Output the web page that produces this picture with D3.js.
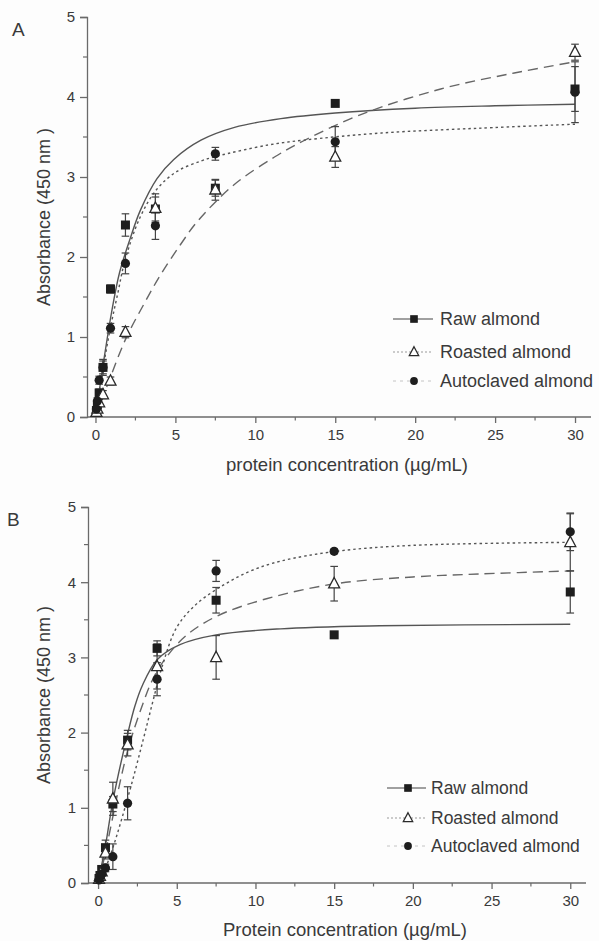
<!DOCTYPE html>
<html><head><meta charset="utf-8">
<script src="https://cdn.jsdelivr.net/npm/d3@7"></script>
<style>
body{margin:0;background:#fff;}
text{font-family:"Liberation Sans",Arial,sans-serif;fill:#3a3a3a;}
</style>
</head><body>
<svg id="c" width="599" height="941"></svg>
<script>
// ---------- data ----------
const seriesNames = ["Raw almond", "Roasted almond", "Autoclaved almond"];
const concentrations = [0.06, 0.12, 0.23, 0.47, 0.94, 1.875, 3.75, 7.5, 15, 30];
const xTickValues = [0, 5, 10, 15, 20, 25, 30];
const yTickValues = [0, 1, 2, 3, 4, 5];

// Panel A
const rawA        = [0.08, 0.15, 0.30, 0.62, 1.60, 2.40, 2.60, 2.86, 3.92, 4.10];
const rawAErr     = [0.03, 0.04, 0.05, 0.08, 0.05, 0.14, 0.15, 0.10, 0.03, 0.28];
const roastedA    = [0.06, 0.10, 0.18, 0.28, 0.45, 1.06, 2.61, 2.84, 3.25, 4.56];
const roastedAErr = [0.02, 0.03, 0.04, 0.05, 0.05, 0.07, 0.18, 0.13, 0.13, 0.10];
const autoA       = [0.10, 0.20, 0.46, 0.62, 1.11, 1.92, 2.39, 3.29, 3.44, 4.06];
const autoAErr    = [0.03, 0.04, 0.05, 0.10, 0.06, 0.13, 0.17, 0.08, 0.19, 0.38];
const fitRawA  = [[0,0],[0.5,0.68],[1,1.3],[1.5,1.8],[2.17,2.23],[2.8,2.58],[3.85,2.98],[4.9,3.22],[6.6,3.46],[8.7,3.62],[11.6,3.73],[15,3.8],[20,3.86],[25,3.89],[30,3.91]];
const fitRoastedA = [[0,0],[0.47,0.25],[0.94,0.5],[1.9,0.98],[3.0,1.4],[4.05,1.77],[5.3,2.15],[6.4,2.45],[8.65,2.9],[11.2,3.25],[13,3.45],[16.6,3.78],[21.6,4.1],[26.2,4.3],[30,4.44]];
const fitAutoA = [[0,0],[0.47,0.6],[0.94,1.12],[1.4,1.55],[1.85,1.96],[2.8,2.5],[3.85,2.85],[5.1,3.07],[6.6,3.2],[7.6,3.26],[10.8,3.4],[13,3.46],[17.9,3.55],[24,3.61],[30,3.66]];

// Panel B
const rawB        = [0.06, 0.10, 0.18, 0.47, 1.05, 1.90, 3.12, 3.76, 3.30, 3.87];
const rawBErr     = [0.02, 0.03, 0.04, 0.10, 0.10, 0.13, 0.10, 0.17, 0.03, 0.28];
const roastedB    = [0.05, 0.09, 0.15, 0.40, 1.12, 1.84, 2.88, 3.00, 3.98, 4.53];
const roastedBErr = [0.02, 0.03, 0.05, 0.08, 0.22, 0.15, 0.30, 0.29, 0.23, 0.38];
const autoB       = [0.04, 0.08, 0.12, 0.20, 0.35, 1.06, 2.71, 4.15, 4.41, 4.67];
const autoBErr    = [0.02, 0.02, 0.03, 0.05, 0.17, 0.22, 0.22, 0.14, 0.03, 0.25];
const fitRawB  = [[0,0],[0.47,0.5],[0.95,1.1],[1.9,2.0],[2.35,2.36],[2.8,2.62],[3.75,2.97],[5.2,3.17],[7.5,3.3],[11.6,3.38],[17.9,3.42],[30,3.44]];
const fitRoastedB = [[0,0],[0.47,0.4],[0.76,0.7],[1.84,1.73],[2.86,2.39],[3.5,2.72],[4.4,3.02],[5.65,3.3],[7.56,3.55],[10.7,3.78],[15.1,3.98],[20,4.07],[24.3,4.11],[30,4.15]];
const fitAutoB = [[0,0],[0.47,0.2],[0.96,0.48],[2.03,1.24],[2.86,1.9],[3.5,2.43],[4.1,2.9],[5.0,3.4],[6.2,3.7],[7.95,3.96],[9.7,4.15],[11.6,4.28],[15.1,4.41],[20,4.49],[30,4.53]];

// ---------- styles ----------
const lineStyles = [
  {dash: null, color: "#555"},
  {dash: "10,6", color: "#666"},
  {dash: "2.5,3", color: "#555"}
];
const legendLineStyles = [
  {dash: null, color: "#444", w: 1.2},
  {dash: "2,2", color: "#999", w: 1},
  {dash: "3,4", color: "#c4c4c4", w: 1}
];

const panels = [
  {letter: "A", letterPos: [12, 36], xDom: [-0.53, 31], xRange: [87, 591], yRange: [417, 17],
   xTitle: "protein concentration (\u00b5g/mL)", xTitleY: 471, yTitleX: 50,
   values: [rawA, roastedA, autoA], errs: [rawAErr, roastedAErr, autoAErr],
   fits: [fitRawA, fitRoastedA, fitAutoA],
   legend: {x1: 393, x2: 433, mx: 414, tx: 440, rows: [319, 352, 381], fs: 18}},
  {letter: "B", letterPos: [7, 526], xDom: [-0.64, 31], xRange: [88, 586], yRange: [883, 507],
   xTitle: "Protein concentration (\u00b5g/mL)", xTitleY: 936, yTitleX: 50,
   values: [rawB, roastedB, autoB], errs: [rawBErr, roastedBErr, autoBErr],
   fits: [fitRawB, fitRoastedB, fitAutoB],
   legend: {x1: 387, x2: 426, mx: 408, tx: 431, rows: [788, 818, 846], fs: 17.5}}
];

const svg = d3.select("#c");
svg.append("rect").attr("width", 599).attr("height", 941).attr("fill", "#fdfdfd");

function marker(g, kind, cx, cy, scale) {
  const s = scale || 1;
  if (kind === 0) {
    g.append("rect").attr("x", cx - 4.5*s).attr("y", cy - 4.5*s).attr("width", 9*s).attr("height", 9*s)
      .attr("fill", "#1e1e1e");
  } else if (kind === 1) {
    const h = 10*s, w = 5.5*s;
    g.append("path").attr("d", `M${cx},${cy - h*0.62}L${cx + w},${cy + h*0.42}L${cx - w},${cy + h*0.42}Z`)
      .attr("fill", "#fff").attr("stroke", "#2a2a2a").attr("stroke-width", 1.3);
  } else {
    g.append("circle").attr("cx", cx).attr("cy", cy).attr("r", 4.6*s).attr("fill", "#1e1e1e");
  }
}

panels.forEach(p => {
  const x = d3.scaleLinear().domain(p.xDom).range(p.xRange);
  const y = d3.scaleLinear().domain([0, 5]).range(p.yRange);
  const g = svg.append("g");
  const axisColor = "#6a6a6a";

  // y axis
  const yAxis = d3.axisLeft(y).tickValues(yTickValues).tickSize(7).tickPadding(5).tickFormat(d3.format("d"));
  const ya = g.append("g").attr("transform", `translate(${p.xRange[0]},0)`).call(yAxis);
  ya.select(".domain").attr("stroke", axisColor).attr("stroke-width", 1.3);
  ya.selectAll(".tick line").attr("stroke", axisColor).attr("stroke-width", 1.3);
  ya.selectAll(".tick text").attr("font-size", 15).attr("fill", "#3a3a3a").style("font-family", '"Liberation Sans",Arial,sans-serif');
  const yMinor = d3.range(0.5, 5, 1);
  g.selectAll(null).data(yMinor).enter().append("line")
    .attr("x1", p.xRange[0] - 4).attr("x2", p.xRange[0]).attr("y1", d => y(d)).attr("y2", d => y(d))
    .attr("stroke", axisColor).attr("stroke-width", 1.2);

  // x axis
  const xAxis = d3.axisBottom(x).tickValues(xTickValues).tickSize(6).tickPadding(6).tickFormat(d3.format("d"));
  const xa = g.append("g").attr("transform", `translate(0,${p.yRange[0]})`).call(xAxis);
  xa.select(".domain").attr("stroke", axisColor).attr("stroke-width", 1.3).attr("d", `M${p.xRange[0]},0H${p.xRange[1]}`);
  xa.selectAll(".tick line").attr("stroke", axisColor).attr("stroke-width", 1.3);
  xa.selectAll(".tick text").attr("font-size", 15).attr("fill", "#3a3a3a").style("font-family", '"Liberation Sans",Arial,sans-serif');
  const xMinor = d3.range(2.5, 30, 5);
  g.selectAll(null).data(xMinor).enter().append("line")
    .attr("x1", d => x(d)).attr("x2", d => x(d)).attr("y1", p.yRange[0]).attr("y2", p.yRange[0] + 3.5)
    .attr("stroke", axisColor).attr("stroke-width", 1.2);

  // titles
  g.append("text").attr("x", (p.xRange[0] + p.xRange[1]) / 2 + 8).attr("y", p.xTitleY)
    .attr("text-anchor", "middle").attr("font-size", 18.5).text(p.xTitle);
  const yc = (p.yRange[0] + p.yRange[1]) / 2;
  g.append("text").attr("transform", `translate(${p.yTitleX},${yc}) rotate(-90)`)
    .attr("text-anchor", "middle").attr("font-size", 18).text("Absorbance (450 nm )");
  g.append("text").attr("x", p.letterPos[0]).attr("y", p.letterPos[1]).attr("font-size", 19).text(p.letter);

  // fitted curves
  const line = d3.line().x(d => x(d[0])).y(d => y(d[1])).curve(d3.curveCatmullRom.alpha(0.5));
  p.fits.forEach((f, i) => {
    g.append("path").attr("d", line(f)).attr("fill", "none")
      .attr("stroke", lineStyles[i].color).attr("stroke-width", 1.4)
      .attr("stroke-dasharray", lineStyles[i].dash);
  });

  // error bars
  p.values.forEach((vals, i) => {
    vals.forEach((v, j) => {
      const e = p.errs[i][j];
      const cx = x(concentrations[j]);
      g.append("line").attr("x1", cx).attr("x2", cx).attr("y1", y(v - e)).attr("y2", y(v + e))
        .attr("stroke", "#444").attr("stroke-width", 1.2);
      [v - e, v + e].forEach(t => {
        g.append("line").attr("x1", cx - 3.8).attr("x2", cx + 3.8).attr("y1", y(t)).attr("y2", y(t))
          .attr("stroke", "#444").attr("stroke-width", 1.2);
      });
    });
  });

  // markers
  p.values.forEach((vals, i) => {
    vals.forEach((v, j) => marker(g, i, x(concentrations[j]), y(v)));
  });

  // legend
  const L = p.legend;
  seriesNames.forEach((name, i) => {
    const ry = L.rows[i];
    g.append("line").attr("x1", L.x1).attr("x2", L.x2).attr("y1", ry).attr("y2", ry)
      .attr("stroke", legendLineStyles[i].color).attr("stroke-width", legendLineStyles[i].w)
      .attr("stroke-dasharray", legendLineStyles[i].dash);
    marker(g, i, L.mx, ry, 0.85);
    g.append("text").attr("x", L.tx).attr("y", ry + 6).attr("font-size", L.fs).text(name);
  });
});
</script>
</body></html>
